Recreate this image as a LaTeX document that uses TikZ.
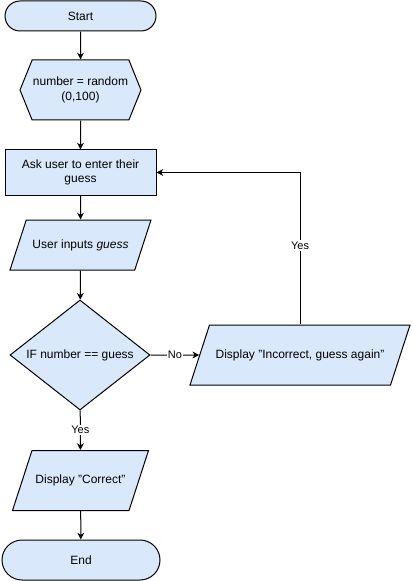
\documentclass[tikz,border=0pt]{standalone}
\usepackage{fontspec}
\setmainfont{Liberation Sans}
\usetikzlibrary{arrows.meta, positioning, shapes.geometric, shapes.symbols, shapes.misc}
\definecolor{boxblue}{HTML}{DAE8FC}
\tikzstyle{block} = [draw, fill=boxblue, line width=0.75pt, font=\fontsize{9}{11}\selectfont, align=center, inner sep=0pt]
\tikzstyle{term} = [block, rounded rectangle]
\tikzstyle{prep} = [block, signal, signal to=west and east, signal pointer angle=136]
\tikzstyle{process} = [block, rectangle]
\tikzstyle{io} = [block, trapezium, trapezium left angle=72, trapezium right angle=108, trapezium stretches body=true, text height=6.5pt, text depth=2pt]
\tikzstyle{decision} = [block, diamond, shape aspect=1.27]
\tikzstyle{arrow} = [-{Stealth[length=5pt, width=5pt, inset=1.5pt]}, line width=0.75pt]
\tikzstyle{lbl} = [fill=white, font=\fontsize{8.25}{10}\selectfont, inner sep=1pt]

\begin{document}
\begin{tikzpicture}[x=0.75pt, y=-0.75pt]
        \useasboundingbox (0,0) rectangle (411,581);

        % Main column
        \node[term, minimum width=113.25pt, minimum height=22.5pt] (start) at (80.5,16) {Start};
        \node[prep, minimum width=90.75pt, minimum height=45pt] (rand) at (80.5,90) {number = random\\(0,100)};
        \node[process, minimum width=113.25pt, minimum height=33.75pt] (ask) at (80.5,172.5) {Ask user to enter their\\guess};
        \node[io, minimum width=105.75pt, inner ysep=14.5pt] (input) at (80.5,245) {User inputs \textit{guess}};
        \node[decision, minimum width=105pt, minimum height=82.5pt] (check) at (80,355) {IF number == guess};
        \node[io, minimum width=102pt, inner ysep=18.25pt] (correct) at (80.5,480.5) {Display "Correct"};
        \node[term, minimum width=118.5pt, minimum height=30pt] (finish) at (81,560) {End};

        % Wrong guess branch
        \node[io, minimum width=165pt, inner ysep=18.25pt] (incorrect) at (300,355) {Display "Incorrect, guess again"};

        % Connections
        \draw[arrow] (start) -- (rand);
        \draw[arrow] (rand) -- (ask);
        \draw[arrow] (ask) -- (input);
        \draw[arrow] (input) -- (check);
        \draw[arrow] (check) -- node[lbl] {No} (incorrect);
        \draw[arrow] (check) -- node[lbl] {Yes} (correct);
        \draw[arrow] (correct) -- (finish);
        \draw[arrow] (incorrect) |- node[lbl, pos=0.26] {Yes} (ask);
    \end{tikzpicture}
\end{document}
